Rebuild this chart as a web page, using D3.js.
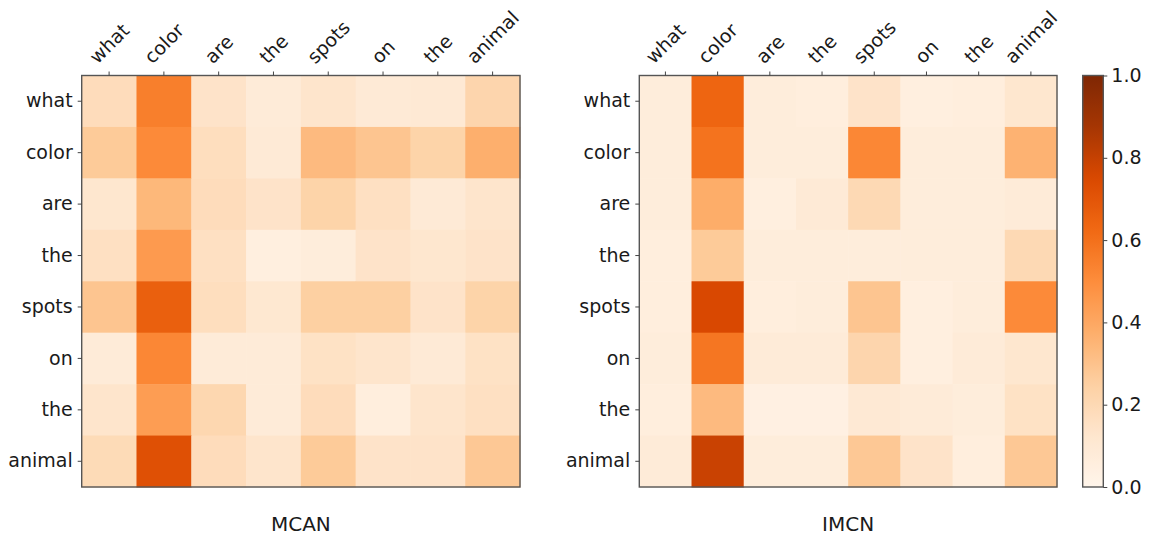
<!DOCTYPE html>
<html>
<head>
<meta charset="utf-8">
<script src="https://cdn.jsdelivr.net/npm/d3@7"></script>
<style>
  html, body { margin: 0; padding: 0; background: #fff; }
  svg { display: block; }
  text { font-family: "DejaVu Sans", sans-serif; fill: #1a1a1a; }
</style>
</head>
<body>
<svg id="chart" width="1150" height="539"></svg>
<script>
const words = ["what", "color", "are", "the", "spots", "on", "the", "animal"];
const titles = ["MCAN", "IMCN"];
const cbTicks = [0, 0.2, 0.4, 0.6, 0.8, 1.0];

const mcanValues = [
  [0.18, 0.55, 0.14, 0.08, 0.13, 0.09, 0.10, 0.22],
  [0.27, 0.51, 0.17, 0.09, 0.33, 0.29, 0.23, 0.37],
  [0.12, 0.34, 0.18, 0.14, 0.23, 0.16, 0.09, 0.13],
  [0.16, 0.45, 0.16, 0.05, 0.07, 0.14, 0.12, 0.14],
  [0.29, 0.66, 0.17, 0.11, 0.25, 0.25, 0.14, 0.23],
  [0.08, 0.52, 0.08, 0.08, 0.15, 0.13, 0.09, 0.15],
  [0.13, 0.44, 0.21, 0.08, 0.18, 0.06, 0.13, 0.16],
  [0.19, 0.72, 0.18, 0.13, 0.27, 0.14, 0.14, 0.28]
];

const imcnValues = [
  [0.07, 0.64, 0.07, 0.06, 0.14, 0.05, 0.06, 0.12],
  [0.07, 0.59, 0.07, 0.07, 0.52, 0.07, 0.07, 0.36],
  [0.07, 0.38, 0.05, 0.09, 0.20, 0.07, 0.07, 0.08],
  [0.06, 0.27, 0.07, 0.07, 0.07, 0.07, 0.07, 0.20],
  [0.06, 0.75, 0.06, 0.07, 0.29, 0.05, 0.07, 0.51],
  [0.07, 0.58, 0.08, 0.08, 0.22, 0.05, 0.08, 0.12],
  [0.06, 0.33, 0.04, 0.04, 0.10, 0.08, 0.07, 0.15],
  [0.08, 0.79, 0.07, 0.07, 0.28, 0.14, 0.06, 0.28]
];

// matplotlib "Oranges" (linear through ColorBrewer 9-class)
const orangeStops = ["#fff5eb", "#fee6ce", "#fdd0a2", "#fdae6b", "#fd8d3c", "#f16913", "#d94801", "#a63603", "#7f2704"];
const color = d3.scaleLinear()
  .domain(d3.range(orangeStops.length).map(i => i / (orangeStops.length - 1)))
  .range(orangeStops)
  .interpolate(d3.interpolateRgb)
  .clamp(true);

const svg = d3.select("#chart");
const FS = 19;
const plotTop = 75.5, plotBottom = 487;
const panels = [
  { x0: 81.7, x1: 520, values: mcanValues, title: titles[0] },
  { x0: 639.3, x1: 1057, values: imcnValues, title: titles[1] }
];
const idx = d3.range(words.length);

panels.forEach(p => {
  const x = d3.scaleBand().domain(idx).range([p.x0, p.x1]).padding(0);
  const y = d3.scaleBand().domain(idx).range([plotTop, plotBottom]).padding(0);
  const g = svg.append("g");

  const cells = [];
  p.values.forEach((row, r) => row.forEach((v, c) => cells.push({ r, c, v })));
  g.selectAll("rect.cell").data(cells).join("rect")
    .attr("class", "cell")
    .attr("x", d => x(d.c))
    .attr("y", d => y(d.r))
    .attr("width", x.bandwidth() + 0.5)
    .attr("height", y.bandwidth() + 0.5)
    .attr("fill", d => color(d.v));

  // frame
  g.append("rect")
    .attr("x", p.x0).attr("y", plotTop)
    .attr("width", p.x1 - p.x0).attr("height", plotBottom - plotTop)
    .attr("fill", "none").attr("stroke", "#555").attr("stroke-width", 1.4);

  // left axis
  const yAxis = g.append("g")
    .attr("transform", `translate(${p.x0},0)`)
    .call(d3.axisLeft(y).tickSize(4).tickPadding(5).tickFormat(i => words[i]));
  yAxis.select(".domain").remove();
  yAxis.selectAll("line").attr("stroke", "#444").attr("stroke-width", 1);
  yAxis.selectAll("text").attr("font-size", FS).attr("font-family", "DejaVu Sans").attr("fill", "#1a1a1a");

  // top axis with rotated labels
  const xAxis = g.append("g")
    .attr("transform", `translate(0,${plotTop})`)
    .call(d3.axisTop(x).tickSize(4).tickFormat(i => words[i]));
  xAxis.select(".domain").remove();
  xAxis.selectAll("line").attr("stroke", "#444").attr("stroke-width", 1);
  xAxis.selectAll("text").each(function () {
    const t = d3.select(this);
    t.attr("font-size", FS).attr("font-family", "DejaVu Sans").attr("fill", "#1a1a1a")
      .attr("text-anchor", "middle").attr("dy", null).attr("y", 0)
      .attr("dominant-baseline", "central");
    const w = this.getComputedTextLength();
    const h = FS * 1.16;
    const half = (w + h) / Math.SQRT2 / 2;
    t.attr("transform", `translate(0,${-8 - half}) rotate(-45)`);
  });

  // title
  svg.append("text")
    .attr("x", (p.x0 + p.x1) / 2).attr("y", 531)
    .attr("text-anchor", "middle").attr("font-size", 20)
    .text(p.title);
});

// colorbar
const cbX0 = 1082.7, cbX1 = 1103.3;
const defs = svg.append("defs");
const grad = defs.append("linearGradient").attr("id", "cbgrad")
  .attr("x1", 0).attr("y1", 1).attr("x2", 0).attr("y2", 0);
d3.range(0, 1.0001, 0.02).forEach(t => {
  grad.append("stop").attr("offset", t).attr("stop-color", color(t));
});
svg.append("rect")
  .attr("x", cbX0).attr("y", plotTop)
  .attr("width", cbX1 - cbX0).attr("height", plotBottom - plotTop)
  .attr("fill", "url(#cbgrad)")
  .attr("stroke", "#555").attr("stroke-width", 1.4);
const cbScale = d3.scaleLinear().domain([0, 1]).range([plotBottom, plotTop]);
const cbAxis = svg.append("g")
  .attr("transform", `translate(${cbX1},0)`)
  .call(d3.axisRight(cbScale).tickValues(cbTicks).tickSize(4).tickPadding(4).tickFormat(d3.format(".1f")));
cbAxis.select(".domain").remove();
cbAxis.selectAll("line").attr("stroke", "#444");
cbAxis.selectAll("text").attr("font-size", FS).attr("font-family", "DejaVu Sans").attr("fill", "#1a1a1a");
</script>
</body>
</html>
